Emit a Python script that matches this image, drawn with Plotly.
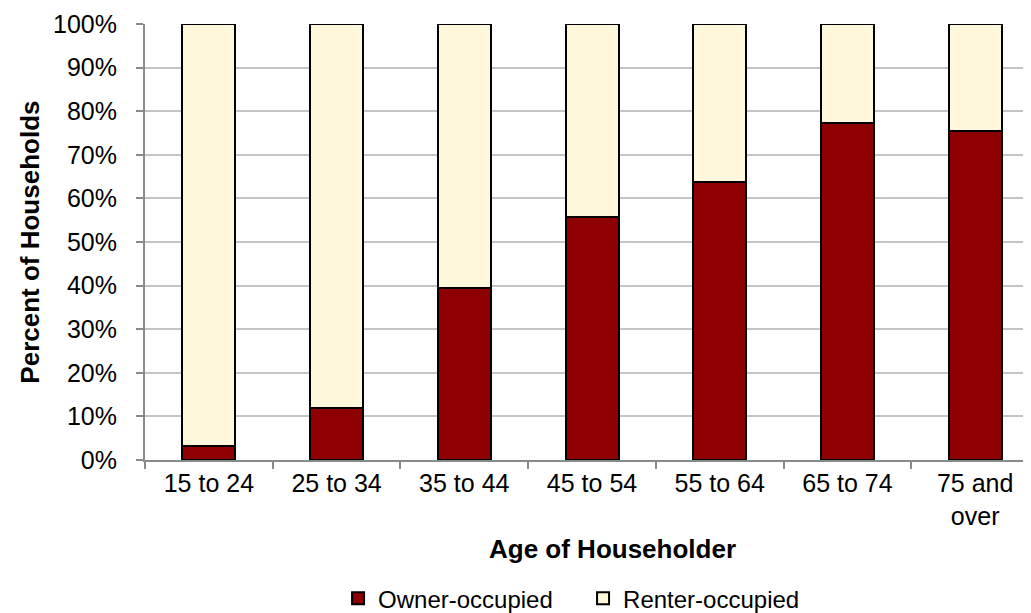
import plotly.graph_objects as go

ages = ["15 to 24", "25 to 34", "35 to 44", "45 to 54", "55 to 64", "65 to 74", "75 and<br>over"]
owner = [3.3, 12.0, 39.4, 55.8, 63.8, 77.2, 75.4]
renter = [100 - v for v in owner]

AXIS_GRAY = "#8a8a8a"

fig = go.Figure()
fig.add_trace(go.Bar(x=ages, y=owner, name="Owner-occupied",
                     marker=dict(color="#8e0000", line=dict(color="black", width=2))))
fig.add_trace(go.Bar(x=ages, y=renter, name="Renter-occupied",
                     marker=dict(color="#fff7dc", line=dict(color="black", width=2))))

fig.update_layout(
    barmode="stack",
    bargap=0.585,
    width=1031, height=613,
    margin=dict(l=137, r=0, t=16, b=161, autoexpand=False),
    plot_bgcolor="white", paper_bgcolor="white",
    font=dict(family="Liberation Sans, Arial", size=25, color="black"),
    showlegend=True,
    legend=dict(orientation="h", x=0.49, xanchor="center", y=-0.318, yanchor="middle",
                font=dict(size=24), itemwidth=30, traceorder="normal",
                entrywidth=200, entrywidthmode="pixels"),
    xaxis=dict(
        showline=True, linecolor=AXIS_GRAY, linewidth=2,
        ticks="outside", tickcolor=AXIS_GRAY, ticklen=7, tickwidth=2,
        tickson="boundaries", automargin=False,
    ),
    yaxis=dict(
        range=[0, 100], dtick=10, ticksuffix="%",
        showline=True, linecolor=AXIS_GRAY, linewidth=2,
        ticks="outside", tickcolor=AXIS_GRAY, ticklen=7, tickwidth=2,
        ticklabelstandoff=14,
        showgrid=True, gridcolor="#c4c4c4", gridwidth=2,
        automargin=False,
    ),
    annotations=[
        dict(text="<b>Age of Householder</b>", xref="paper", yref="paper",
             x=0.523, y=-0.205, xanchor="center", yanchor="middle",
             showarrow=False, font=dict(size=26)),
        dict(text="<b>Percent of Households</b>", xref="paper", yref="paper",
             x=-0.129, y=0.5, xanchor="center", yanchor="middle", textangle=-90,
             showarrow=False, font=dict(size=26)),
    ],
)

fig.write_html("out.html")
